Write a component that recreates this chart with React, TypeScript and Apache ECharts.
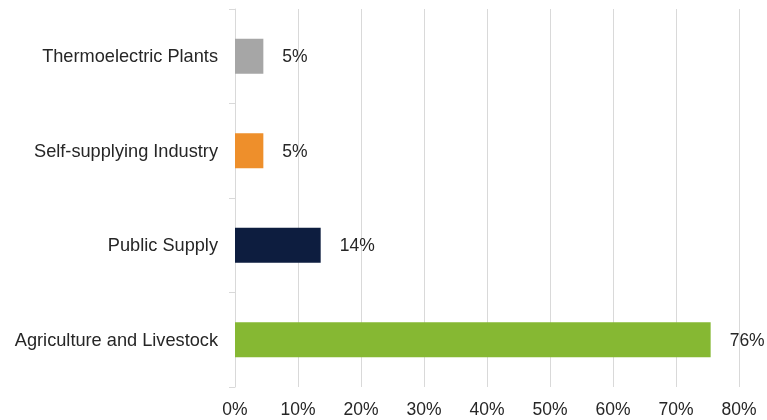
import React, { useEffect, useRef } from "react";
import * as echarts from "echarts";

const categories = [
  "Thermoelectric Plants",
  "Self-supplying Industry",
  "Public Supply",
  "Agriculture and Livestock",
];
const values = [4.5, 4.5, 13.6, 75.5];
const barColors = ["#a6a6a6", "#ee8f2b", "#0d1d3f", "#86b833"];
const xTicks = { min: 0, max: 80, interval: 10 };

const FONT = "'Liberation Sans', Arial, sans-serif";
const TEXT = "#262626";
const GRID = "#d9d9d9";

export default function App() {
  const ref = useRef<HTMLDivElement>(null);
  useEffect(() => {
    if (!ref.current) return;
    const chart = echarts.init(ref.current, undefined, { renderer: "svg" });
    chart.setOption({
      animation: false,
      grid: { left: 235, right: 28, top: 9, bottom: 33, containLabel: false },
      xAxis: {
        type: "value",
        min: xTicks.min,
        max: xTicks.max,
        interval: xTicks.interval,
        axisLine: { show: false },
        axisTick: { show: false },
        axisLabel: {
          formatter: "{value}%",
          color: TEXT,
          fontSize: 17.5,
          fontFamily: FONT,
          margin: 13,
        },
        splitLine: { show: true, lineStyle: { color: GRID, width: 1 } },
      },
      yAxis: {
        type: "category",
        inverse: true,
        data: categories,
        axisLine: { show: true, lineStyle: { color: GRID, width: 1 } },
        axisTick: { show: true, length: 6, lineStyle: { color: GRID } },
        axisLabel: {
          color: TEXT,
          fontSize: 18.2,
          fontFamily: FONT,
          margin: 17,
        },
        splitLine: { show: false },
      },
      series: [
        {
          type: "bar",
          barWidth: 35,
          data: values.map((v, i) => ({
            value: v,
            itemStyle: { color: barColors[i] },
          })),
          label: {
            show: true,
            position: "right",
            distance: 19,
            color: TEXT,
            fontSize: 17.5,
            fontFamily: FONT,
            formatter: (p: any) => Math.round(p.value) + "%",
          },
        },
      ],
    });
    return () => chart.dispose();
  }, []);
  return (
    <div
      ref={ref}
      style={{ position: "fixed", left: 0, top: 0, width: 767, height: 420 }}
    />
  );
}
